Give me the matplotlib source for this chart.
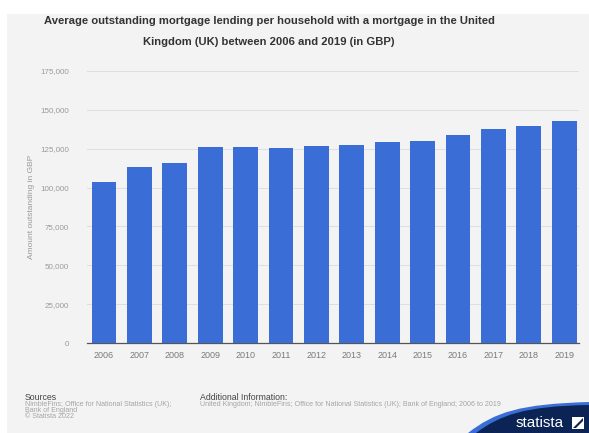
import matplotlib.pyplot as plt
import numpy as np
from matplotlib.patches import Rectangle, PathPatch
from matplotlib.path import Path

plt.rcParams['font.family'] = ['Liberation Sans', 'DejaVu Sans']

years = ['2006', '2007', '2008', '2009', '2010', '2011', '2012',
         '2013', '2014', '2015', '2016', '2017', '2018', '2019']
amount = [103300, 113000, 116000, 126000, 126000, 125400, 126500,
          127600, 129300, 130200, 133800, 137500, 139400, 142700]
yticks = [0, 25000, 50000, 75000, 100000, 125000, 150000, 175000]

W, H = 589, 433
fig = plt.figure(figsize=(W / 100, H / 100), dpi=100, facecolor='white')

# gray panel behind everything
fig.patches.append(Rectangle((7 / W, 0), 1 - 7 / W, (H - 14) / H,
                             transform=fig.transFigure, facecolor='#f3f3f3',
                             edgecolor='none', zorder=-5))

ax = fig.add_axes([87 / W, (H - 343) / H, 492 / W, (343 - 71) / H])
ax.set_facecolor('none')
x = np.arange(len(years))
ax.bar(x, amount, width=0.7, color='#3a6ed6', zorder=3)
ax.set_xlim(-0.48, len(years) - 0.58)
ax.set_ylim(0, 175000)
ax.set_yticks(yticks)
ax.set_yticklabels([f'{v:,}' for v in yticks])
ax.set_xticks(x)
ax.set_xticklabels(years)
ax.tick_params(axis='x', length=0, labelsize=6.5, colors='#7a7a7a', pad=6)
ax.tick_params(axis='y', length=0, labelsize=5.8, colors='#9a9a9a', pad=13)
ax.grid(axis='y', color='#dedede', linewidth=0.7, zorder=0)
for s in ['top', 'right', 'left']:
    ax.spines[s].set_visible(False)
ax.spines['bottom'].set_color('#555555')
ax.spines['bottom'].set_linewidth(0.9)
ax.set_ylabel('Amount outstanding in GBP', fontsize=6, color='#9a9a9a', labelpad=4)

fig.text(269 / W, 1 - 21.5 / H,
         'Average outstanding mortgage lending per household with a mortgage in the United',
         ha='center', va='center', fontsize=8.1, fontweight='bold', color='#333333')
fig.text(269 / W, 1 - 42 / H, 'Kingdom (UK) between 2006 and 2019 (in GBP)',
         ha='center', va='center', fontsize=8.1, fontweight='bold', color='#333333')

# footer
fig.text(25 / W, 1 - 398 / H, 'Sources', fontsize=6.3, color='#444444', va='center')
fig.text(25 / W, 1 - 404.5 / H, 'NimbleFins; Office for National Statistics (UK);',
         fontsize=5.1, color='#a5a5a5', va='center')
fig.text(25 / W, 1 - 410.5 / H, 'Bank of England', fontsize=5.1, color='#a5a5a5', va='center')
fig.text(25 / W, 1 - 416.5 / H, '\u00a9 Statista 2022', fontsize=5.1, color='#a5a5a5', va='center')
fig.text(200 / W, 1 - 398 / H, 'Additional Information:', fontsize=6.3, color='#444444', va='center')
fig.text(200 / W, 1 - 404.5 / H,
         'United Kingdom; NimbleFins; Office for National Statistics (UK); Bank of England; 2006 to 2019',
         fontsize=5.1, color='#a5a5a5', va='center')

# statista swoosh logo
def px(xp, yp):
    return (xp / W, 1 - yp / H)

light = Path([px(468, 433), px(495, 412), px(520, 404), px(589, 402),
              px(589, 433), px(468, 433)],
             [Path.MOVETO, Path.CURVE4, Path.CURVE4, Path.CURVE4,
              Path.LINETO, Path.CLOSEPOLY])
fig.patches.append(PathPatch(light, transform=fig.transFigure,
                             facecolor='#3a6ed6', edgecolor='none', zorder=5))
dark = Path([px(476, 433), px(500, 415), px(525, 406), px(589, 405),
             px(589, 433), px(476, 433)],
            [Path.MOVETO, Path.CURVE4, Path.CURVE4, Path.CURVE4,
             Path.LINETO, Path.CLOSEPOLY])
fig.patches.append(PathPatch(dark, transform=fig.transFigure,
                             facecolor='#0c2455', edgecolor='none', zorder=6))
fig.text(540 / W, 1 - 423 / H, 'statista', fontsize=11, color='white',
         ha='center', va='center', zorder=7)
fig.patches.append(Rectangle((572 / W, 1 - 429 / H), 12 / W, 12 / H,
                             transform=fig.transFigure, facecolor='white',
                             edgecolor='none', zorder=7))
icon = Path([px(573, 428), px(583, 418), px(583, 421), px(576, 428), px(573, 428)],
            [Path.MOVETO, Path.LINETO, Path.LINETO, Path.LINETO, Path.CLOSEPOLY])
fig.patches.append(PathPatch(icon, transform=fig.transFigure,
                             facecolor='#0c2455', edgecolor='none', zorder=8))

fig.savefig('out.png', dpi=100, facecolor='white')
